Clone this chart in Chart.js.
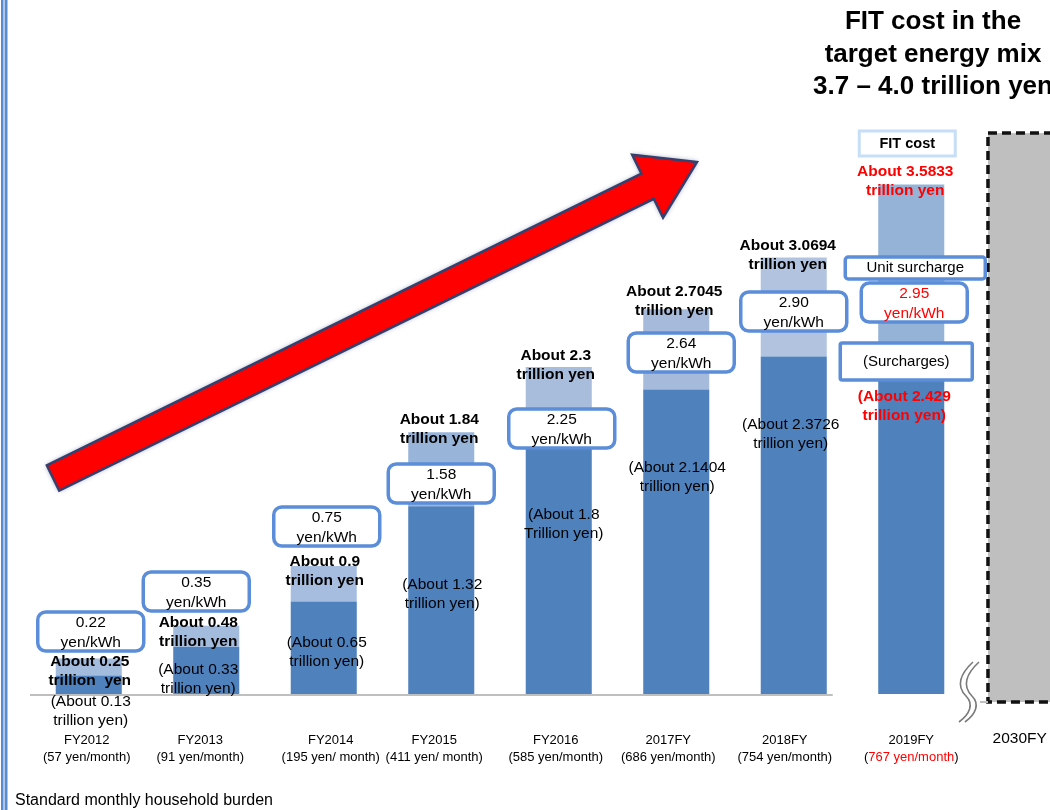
<!DOCTYPE html>
<html>
<head>
<meta charset="utf-8">
<script src="https://cdn.jsdelivr.net/npm/chart.js@4.4.1/dist/chart.umd.min.js"></script>
<style>
  html, body { margin: 0; padding: 0; background: #fff; overflow: hidden; }
  #wrap { width: 1100px; height: 810px; }
</style>
</head>
<body>
<div id="wrap"><canvas id="fit-chart" width="1100" height="810"></canvas></div>
<script>
// data (trillion yen)
const categories = ["FY2012", "FY2013", "FY2014", "FY2015", "FY2016", "2017FY", "2018FY", "2019FY", "2030FY"];
const monthlyBurden = ["(57 yen/month)", "(91 yen/month)", "(195 yen/ month)", "(411 yen/ month)", "(585 yen/month)", "(686 yen/month)", "(754 yen/month)", "767 yen/month", ""];
const fitCost = [0.25, 0.48, 0.9, 1.84, 2.3, 2.7045, 3.0694, 3.5833, null];
const surcharges = [0.13, 0.33, 0.65, 1.32, 1.8, 2.1404, 2.3726, 2.429, null];
const unitSurcharge = ["0.22", "0.35", "0.75", "1.58", "2.25", "2.64", "2.90", "2.95", null];
const targetMix = [null, null, null, null, null, null, null, null, 4.0];
const titleLines = ["FIT cost in the", "target energy mix", "3.7 \u2013 4.0 trillion yen"];

const FONT = "'Liberation Sans', Arial, sans-serif";
const DARK = "#4F81BD";
const lightColors = ["#A3BBDD", "#A3BBDD", "#A6BDDF", "#98B4D9", "#A8BCDC", "#A6BBDC", "#B2C3E0", "#95B3D7", "#95B3D7"];
const BOX_BLUE = "#5B8DD9";

// per-category placement of the notes: dx from bar centre, y in px
const place = [
  { box: [2, 612], tot: [1, 662], sur: [2, 702], lab: -2 },
  { box: [-10, 572], tot: [-8, 623], sur: [-8, 670], lab: -6 },
  { box: [3, 507], tot: [1, 562], sur: [3, 643], lab: 7 },
  { box: [0, 464], tot: [-2, 420], sur: [1, 585], lab: -7 },
  { box: [3, 409], tot: [-3, 356], sur: [5, 515], lab: -3 },
  { box: [5, 333], tot: [-2, 292], sur: [1, 468], lab: -8 },
  { box: [0, 292], tot: [-6, 246], sur: [-3, 425], lab: -9 },
  { box: [3, 283], tot: [-6, 172], sur: [-7, 397], lab: 0 },
  { lab: -9 }
];

function txt(ctx, s, x, y, font, color, align) {
  ctx.font = font;
  ctx.fillStyle = color || "#000";
  ctx.textAlign = align || "center";
  ctx.textBaseline = "middle";
  ctx.fillText(s, x, y);
}

function roundBox(ctx, x, y, w, h, r, stroke, lw) {
  ctx.beginPath();
  ctx.roundRect(x, y, w, h, r);
  ctx.fillStyle = "#fff";
  ctx.fill();
  ctx.lineWidth = lw;
  ctx.strokeStyle = stroke;
  ctx.stroke();
}

const notesPlugin = {
  id: "notes",
  afterDatasetsDraw(chart) {
    const ctx = chart.ctx;
    const xs = chart.scales.x, ys = chart.scales.y;
    const base = ys.getPixelForValue(0);
    ctx.save();

    // baseline
    const last = chart.getDatasetMeta(0).data[6];
    ctx.strokeStyle = "#BFBFBF";
    ctx.lineWidth = 2;
    ctx.beginPath();
    ctx.moveTo(chart.chartArea.left, base + 1);
    ctx.lineTo(last.x + last.width / 2 + 6, base + 1);
    ctx.stroke();

    // 2030 target box
    const t = chart.getDatasetMeta(2).data[8];
    const tx = t.x - t.width / 2, ty = t.y + 8, th = t.base - t.y;
    ctx.fillStyle = "#BFBFBF";
    ctx.fillRect(tx, ty, t.width, th);
    ctx.setLineDash([9, 5]);
    ctx.lineWidth = 3.5;
    ctx.strokeStyle = "#111";
    ctx.strokeRect(tx, ty, t.width, th);
    ctx.setLineDash([]);
    ctx.strokeStyle = "#BFBFBF";
    ctx.lineWidth = 2;
    ctx.beginPath();
    ctx.moveTo(tx - 8, ty + th);
    ctx.lineTo(tx, ty + th);
    ctx.stroke();

    // break mark
    ctx.strokeStyle = "#7a7a7a";
    ctx.lineWidth = 1.6;
    [0, 6].forEach(off => {
      const x0 = tx - 30 + off;
      ctx.beginPath();
      ctx.moveTo(x0 + 15, base - 32);
      ctx.bezierCurveTo(x0 + 2, base - 20, x0 - 2, base - 8, x0 + 8, base + 2);
      ctx.bezierCurveTo(x0 + 16, base + 10, x0 + 12, base + 20, x0 + 1, base + 28);
      ctx.stroke();
    });

    // red arrow
    const T = [53, 478], P = [697, 162];
    const dx = P[0] - T[0], dy = P[1] - T[1];
    const L = Math.hypot(dx, dy);
    const u = [dx / L, dy / L], n = [-u[1], u[0]];
    const hw = 14, headW = 35, headL = 55;
    const hb = [T[0] + u[0] * (L - headL), T[1] + u[1] * (L - headL)];
    const pts = [
      [T[0] + n[0] * hw, T[1] + n[1] * hw],
      [hb[0] + n[0] * hw, hb[1] + n[1] * hw],
      [hb[0] + n[0] * headW, hb[1] + n[1] * headW],
      P,
      [hb[0] - n[0] * headW, hb[1] - n[1] * headW],
      [hb[0] - n[0] * hw, hb[1] - n[1] * hw],
      [T[0] - n[0] * hw, T[1] - n[1] * hw]
    ];
    ctx.beginPath();
    pts.forEach((p, i) => i ? ctx.lineTo(p[0], p[1]) : ctx.moveTo(p[0], p[1]));
    ctx.closePath();
    ctx.shadowColor = "rgba(30,40,90,0.55)";
    ctx.shadowBlur = 5;
    ctx.fillStyle = "#FF0000";
    ctx.fill();
    ctx.shadowBlur = 0;
    ctx.shadowColor = "transparent";
    ctx.lineWidth = 2.5;
    ctx.strokeStyle = "#34406E";
    ctx.stroke();

    const bold = "bold 15.5px " + FONT;
    const norm = "15.5px " + FONT;
    const small = "13px " + FONT;

    categories.forEach((cat, i) => {
      const cx = xs.getPixelForValue(i);
      const p = place[i];
      const red = i === 7 ? "#FF0000" : "#000";

      if (unitSurcharge[i] !== null) {
        // unit surcharge box
        const bx = cx + p.box[0] - 53, by = p.box[1];
        roundBox(ctx, bx, by, 106, 39, 8, BOX_BLUE, 3.5);
        txt(ctx, unitSurcharge[i], bx + 53, by + 11, norm, red);
        txt(ctx, "yen/kWh", bx + 53, by + 31, norm, red);

        // total FIT cost
        txt(ctx, "About " + fitCost[i], cx + p.tot[0], p.tot[1], bold, red);
        txt(ctx, i === 0 ? "trillion  yen" : "trillion yen", cx + p.tot[0], p.tot[1] + 19, bold, red);

        // surcharges
        const sf = i === 7 ? bold : norm;
        txt(ctx, "(About " + surcharges[i], cx + p.sur[0], p.sur[1], sf, red);
        txt(ctx, (i === 4 ? "Trillion yen)" : "trillion yen)"), cx + p.sur[0], p.sur[1] + 19, sf, red);
      }

      // category labels
      const lx = cx + p.lab;
      if (i === 8) {
        txt(ctx, cat, lx, 739, "15.5px " + FONT, "#000");
      } else {
        txt(ctx, cat, lx, 740, small, "#000");
        if (i === 7) {
          ctx.font = small;
          const w1 = ctx.measureText("(").width, w2 = ctx.measureText(monthlyBurden[i]).width;
          const x0 = lx - (w1 * 2 + w2) / 2;
          txt(ctx, "(", x0, 757, small, "#000", "left");
          txt(ctx, monthlyBurden[i], x0 + w1, 757, small, "#FF0000", "left");
          txt(ctx, ")", x0 + w1 + w2, 757, small, "#000", "left");
        } else {
          txt(ctx, monthlyBurden[i], lx, 757, small, "#000");
        }
      }
    });

    // 2019 legend-like boxes
    const c19 = xs.getPixelForValue(7);
    ctx.lineWidth = 3;
    ctx.strokeStyle = "#C6DFF6";
    ctx.fillStyle = "#fff";
    ctx.fillRect(c19 - 52, 131, 96, 25);
    ctx.strokeRect(c19 - 52, 131, 96, 25);
    txt(ctx, "FIT cost", c19 - 4, 144, "bold 14.5px " + FONT, "#000");
    roundBox(ctx, c19 - 66, 257, 140, 22, 3, BOX_BLUE, 3.5);
    txt(ctx, "Unit surcharge", c19 + 4, 268, "15px " + FONT, "#000");
    roundBox(ctx, c19 - 71, 343, 132, 37, 2, BOX_BLUE, 3.5);
    txt(ctx, "(Surcharges)", c19 - 5, 362, "15px " + FONT, "#000");

    // title
    titleLines.forEach((s, k) => txt(ctx, s, 933, 22 + k * 32.5, "bold 26px " + FONT, "#000"));

    // footer note
    txt(ctx, "Standard monthly household burden", 15, 801, "16px " + FONT, "#000", "left");

    // left double rule
    ctx.fillStyle = "#C9D9F0";
    ctx.fillRect(1, 0, 6.5, 810);
    ctx.fillStyle = "#5B8BD0";
    ctx.fillRect(1, 0, 2.3, 810);
    ctx.fillRect(4.8, 0, 2.6, 810);

    ctx.restore();
  }
};

const ctx = document.getElementById("fit-chart").getContext("2d");
new Chart(ctx, {
  type: "bar",
  data: {
    labels: categories,
    datasets: [
      {
        label: "Surcharges",
        data: surcharges,
        backgroundColor: DARK,
        barPercentage: 0.562,
        categoryPercentage: 1
      },
      {
        label: "FIT cost",
        data: fitCost.map((v, i) => v === null ? null : v - surcharges[i]),
        backgroundColor: lightColors,
        barPercentage: 0.562,
        categoryPercentage: 1
      },
      {
        label: "Target energy mix",
        data: targetMix,
        backgroundColor: "rgba(0,0,0,0)",
        barPercentage: 0.694,
        categoryPercentage: 1
      }
    ]
  },
  options: {
    responsive: false,
    animation: false,
    events: [],
    layout: { padding: { left: 30, right: 12.5, top: 54, bottom: 116 } },
    plugins: {
      legend: { display: false },
      tooltip: { enabled: false }
    },
    scales: {
      x: { display: false, stacked: true },
      y: { display: false, stacked: true, min: 0, max: 4.5 }
    }
  },
  plugins: [notesPlugin]
});
</script>
</body>
</html>
